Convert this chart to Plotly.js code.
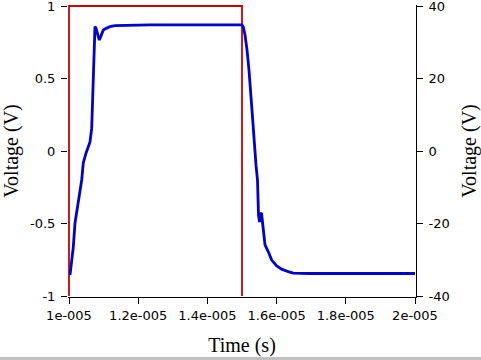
<!DOCTYPE html>
<html>
<head>
<meta charset="utf-8">
<script src="https://cdn.plot.ly/plotly-3.0.1.min.js"></script>
<style>
html,body{margin:0;padding:0;background:#c0c0c0;width:481px;height:360px;overflow:hidden;}
#chart{width:481px;height:357px;background:#fff;}
</style>
</head>
<body>
<div id="chart"></div>
<script>
// Input pulse (left axis, V)
var inputTime = [1.0e-5, 1.0e-5, 1.5e-5, 1.5e-5];
var inputVolt = [-1, 1, 1, -1];

// Output response (right axis, V), times in microseconds
var outputTimeUs = [10.029, 10.124, 10.173, 10.269, 10.367, 10.413, 10.491, 10.607, 10.656, 10.673,
  10.702, 10.723, 10.737, 10.751, 10.780, 10.824, 10.876, 10.925, 10.991, 11.090,
  11.185, 11.329, 11.618, 12.341, 13.786, 15.000, 15.038, 15.087, 15.145, 15.202,
  15.289, 15.347, 15.405, 15.448, 15.468, 15.477, 15.506, 15.535, 15.564, 15.592,
  15.616, 15.665, 15.760, 15.858, 16.003, 16.147, 16.338, 16.483, 16.965, 20.000];
var outputVolt = [-34.2, -26.5, -19.9, -14.3, -8.0, -3.3, -0.6, 2.5, 6.3, 11.3,
  19.6, 27.9, 33.4, 34.3, 33.9, 32.0, 30.6, 31.7, 33.4, 33.9,
  34.3, 34.6, 34.7, 34.8, 34.8, 34.8, 34.2, 32.0, 27.9, 22.3,
  11.3, 3.0, -3.9, -8.0, -13.5, -17.7, -19.6, -17.4, -17.1, -19.6,
  -22.6, -25.9, -27.8, -30.1, -31.7, -32.6, -33.3, -33.7, -33.8, -33.8];

var xTickVals = [1.0e-5, 1.2e-5, 1.4e-5, 1.6e-5, 1.8e-5, 2.0e-5];
var xTickText = ["1e-005", "1.2e-005", "1.4e-005", "1.6e-005", "1.8e-005", "2e-005"];
var yTickVals = [-1, -0.5, 0, 0.5, 1];
var yTickText = ["-1", "-0.5", "0", "0.5", "1"];
var y2TickVals = [-40, -20, 0, 20, 40];
var y2TickText = ["-40", "-20", "0", "20", "40"];

var outputTime = outputTimeUs.map(function(t){ return t * 1e-6; });

var xPad = 1e-5 / 346;
var yPad = 2 / 290;

var traces = [
  {x: inputTime, y: inputVolt, type: 'scatter', mode: 'lines', yaxis: 'y',
   line: {color: '#cc0000', width: 1.8}, hoverinfo: 'skip'},
  {x: outputTime, y: outputVolt, type: 'scatter', mode: 'lines', yaxis: 'y2',
   line: {color: '#0000d0', width: 2.8}, hoverinfo: 'skip'}
];

var tickFont = {family: 'DejaVu Sans', size: 13, color: '#000'};
var titleFont = {family: 'Liberation Serif', size: 20, color: '#000'};

var layout = {
  width: 481, height: 357,
  margin: {l: 68, r: 65, t: 5, b: 60, pad: 0},
  paper_bgcolor: '#fff', plot_bgcolor: '#fff',
  showlegend: false,
  xaxis: {
    range: [1e-5 - xPad, 2e-5 + xPad],
    tickvals: xTickVals, ticktext: xTickText,
    ticks: 'outside', ticklen: 6, tickcolor: '#000', tickwidth: 1,
    showline: true, linecolor: '#000', linewidth: 1,
    showgrid: false, zeroline: false,
    tickfont: tickFont, ticklabeloverflow: 'allow',
    title: {text: 'Time (s)', font: titleFont}
  },
  yaxis: {
    range: [-1 - yPad, 1 + yPad],
    tickvals: yTickVals, ticktext: yTickText,
    ticks: 'outside', ticklen: 6, tickcolor: '#000', tickwidth: 1,
    showline: false, showgrid: false, zeroline: false,
    tickfont: tickFont, ticklabeloverflow: 'allow', ticklabelstandoff: 3,
    title: {text: 'Voltage (V)', font: titleFont}
  },
  yaxis2: {
    overlaying: 'y', side: 'right',
    range: [-40 - 40 * yPad, 40 + 40 * yPad],
    tickvals: y2TickVals, ticktext: y2TickText,
    ticks: 'outside', ticklen: 6, tickcolor: '#000', tickwidth: 1,
    showline: true, linecolor: '#000', linewidth: 1,
    showgrid: false, zeroline: false,
    tickfont: tickFont, ticklabeloverflow: 'allow', ticklabelstandoff: 3,
    title: {text: 'Voltage (V)', font: titleFont}
  }
};

Plotly.newPlot('chart', traces, layout, {staticPlot: true, displayModeBar: false});
</script>
</body>
</html>
